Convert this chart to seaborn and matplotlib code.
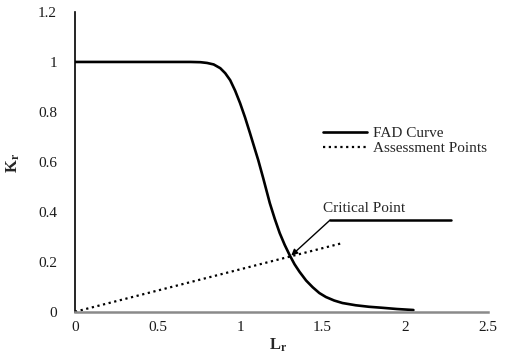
import matplotlib
matplotlib.use("Agg")
import matplotlib.pyplot as plt
import seaborn as sns
import pandas as pd

# Data
fad_lr = [0.0, 0.5, 0.70, 0.76, 0.80, 0.84, 0.88, 0.91, 0.94, 0.97, 1.00, 1.03, 1.06, 1.09,
          1.11, 1.14, 1.18, 1.21, 1.24, 1.27, 1.30, 1.33, 1.36, 1.40, 1.44, 1.48, 1.52,
          1.57, 1.62, 1.70, 1.78, 1.86, 1.95, 2.05]
fad_kr = [1.0, 1.0, 1.0, 0.999, 0.996, 0.99, 0.975, 0.955, 0.927, 0.885, 0.835, 0.778, 0.715, 0.65,
          0.607, 0.535, 0.435, 0.372, 0.315, 0.268, 0.227, 0.19, 0.16, 0.125, 0.098, 0.075, 0.059,
          0.045, 0.035, 0.026, 0.02, 0.016, 0.011, 0.007]
assess_lr = [0.0, 1.62]
assess_kr = [0.0, 0.275]
critical_point = (1.31, 0.225)
x_ticks = [0, 0.5, 1, 1.5, 2, 2.5]
x_tick_labels = ["0", "0.5", "1", "1.5", "2", "2.5"]
y_ticks = [0, 0.2, 0.4, 0.6, 0.8, 1, 1.2]
y_tick_labels = ["0", "0.2", "0.4", "0.6", "0.8", "1", "1.2"]

sns.set_style("white")
plt.rcParams['font.family'] = ['Liberation Serif', 'DejaVu Serif']
plt.rcParams['mathtext.fontset'] = 'custom'
plt.rcParams['mathtext.rm'] = 'Liberation Serif'
plt.rcParams['mathtext.bf'] = 'Liberation Serif:bold'
plt.rcParams['mathtext.it'] = 'Liberation Serif:italic'

fig = plt.figure(figsize=(5.26, 3.6), dpi=100)
ax = fig.add_axes([0.1426, 0.134, 0.7846, 0.8327])

fad_df = pd.DataFrame({"Lr": fad_lr, "Kr": fad_kr})
ass_df = pd.DataFrame({"Lr": assess_lr, "Kr": assess_kr})

sns.lineplot(data=fad_df, x="Lr", y="Kr", ax=ax, color="black", linewidth=1.9,
             label="FAD Curve", sort=False, estimator=None)
sns.lineplot(data=ass_df, x="Lr", y="Kr", ax=ax, color="black", linewidth=1.6,
             linestyle=(0, (1, 1.6)), label="Assessment Points", sort=False, estimator=None)

ax.set_xlim(0, 2.5)
ax.set_ylim(0, 1.2)
ax.set_xticks(x_ticks)
ax.set_xticklabels(x_tick_labels)
ax.set_yticks(y_ticks)
ax.set_yticklabels(y_tick_labels)
ax.tick_params(axis='both', length=0, labelsize=11, colors='#1a1a1a')
ax.tick_params(axis='y', pad=13)
ax.tick_params(axis='x', pad=7)

for s in ['top', 'right']:
    ax.spines[s].set_visible(False)
ax.spines['left'].set_color('black')
ax.spines['left'].set_linewidth(1.2)
ax.spines['bottom'].set_color('#8a8a8a')
ax.spines['bottom'].set_linewidth(1.8)
ax.grid(False)

ax.set_xlabel(r'$\mathbf{L_r}$', fontsize=12)
ax.set_ylabel(r'$\mathbf{K_r}$', fontsize=12, rotation=90)
ax.xaxis.set_label_coords(0.492, -0.082)
ax.yaxis.set_label_coords(-0.128, 0.496)

# Critical point annotation
ax.annotate("", xy=critical_point, xytext=(1.545, 0.367),
            arrowprops=dict(arrowstyle="-|>", color="black", lw=1.0,
                            mutation_scale=9, shrinkA=0, shrinkB=0))
ax.plot([1.545, 2.277], [0.367, 0.367], color="black", linewidth=1.8)
ax.text(1.50, 0.40, "Critical Point", fontsize=11, ha="left", va="baseline")

leg = ax.legend(loc="upper left", bbox_to_anchor=(0.600, 0.617), frameon=False,
                fontsize=11, handlelength=2.9, handletextpad=0.4, labelspacing=0.05,
                borderpad=0, borderaxespad=0)

fig.savefig("out.png", dpi=100)
